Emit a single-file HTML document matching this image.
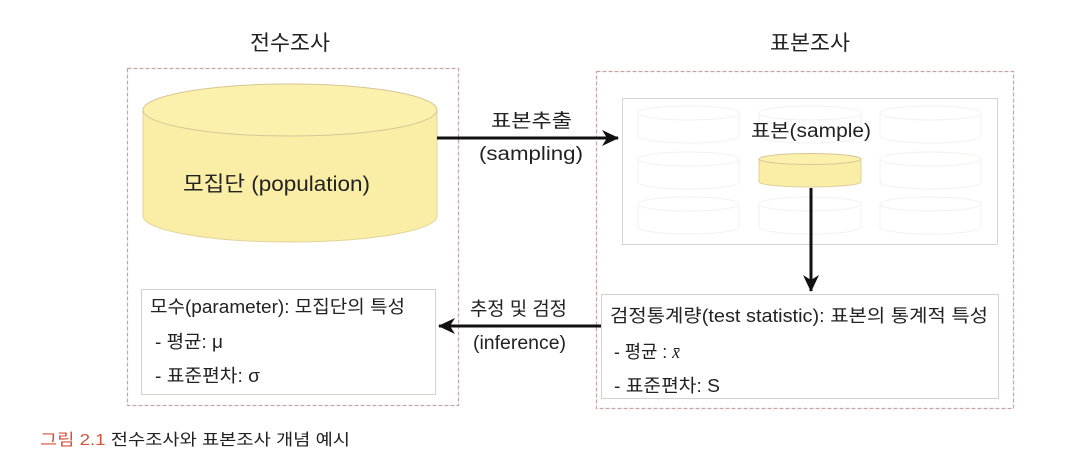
<!DOCTYPE html>
<html><head><meta charset="utf-8"><style>
html,body{margin:0;padding:0;background:#fff;}
svg{display:block;}
text{font-family:"Liberation Sans","Noto Sans CJK KR",sans-serif;fill:#222;}
</style></head><body>
<svg width="1078" height="474" viewBox="0 0 1078 474" xmlns="http://www.w3.org/2000/svg">
<defs>
<marker id="ah2" markerWidth="20" markerHeight="20" refX="16" refY="8" orient="auto" markerUnits="userSpaceOnUse">
<path d="M0,0 L17,8 L0,16 L5,8 Z" fill="#111"/>
</marker>
</defs>
<text x="250" y="50" font-size="21" textLength="80" lengthAdjust="spacingAndGlyphs">전수조사</text>
<text x="770" y="50" font-size="21" textLength="80" lengthAdjust="spacingAndGlyphs">표본조사</text>
<rect x="127.5" y="68.5" width="331" height="337" fill="none" stroke="#c9a4a4" stroke-width="1.2" stroke-dasharray="4,2"/>
<rect x="596.5" y="71.5" width="417" height="337" fill="none" stroke="#c9a4a4" stroke-width="1.2" stroke-dasharray="4,2"/>
<path d="M143,110 L143,216 A147,26 0 0 0 437,216 L437,110" fill="#faeea6" stroke="#e3d39b" stroke-width="1"/>
<ellipse cx="290" cy="110" rx="147" ry="26" fill="#fbf0ac" stroke="#d8c596" stroke-width="1"/>
<text x="183" y="191" font-size="21" textLength="187" lengthAdjust="spacingAndGlyphs">모집단 (population)</text>
<rect x="141.5" y="289.5" width="294" height="105" fill="#fff" stroke="#ccd6cc" stroke-width="1"/>
<text x="150" y="313" font-size="18" textLength="255" lengthAdjust="spacingAndGlyphs">모수(parameter): 모집단의 특성</text>
<text x="155" y="348" font-size="18" textLength="68" lengthAdjust="spacingAndGlyphs">- 평균: μ</text>
<text x="155" y="382" font-size="18" textLength="105" lengthAdjust="spacingAndGlyphs">- 표준편차: σ</text>
<rect x="622.5" y="98.5" width="375" height="146" fill="#fff" stroke="#d4d4d4" stroke-width="1"/>
<g fill="none" stroke="#f1f3ef" stroke-width="1">
<path d="M638,113 v23 a50.5,7 0 0 0 101,0 v-23"/><ellipse cx="688.5" cy="113" rx="50.5" ry="7"/>
<path d="M638,159 v23 a50.5,7 0 0 0 101,0 v-23"/><ellipse cx="688.5" cy="159" rx="50.5" ry="7"/>
<path d="M638,204 v23 a50.5,7 0 0 0 101,0 v-23"/><ellipse cx="688.5" cy="204" rx="50.5" ry="7"/>
<path d="M759,113 v23 a51,7 0 0 0 102,0 v-23"/><ellipse cx="810" cy="113" rx="51" ry="7"/>
<path d="M759,204 v23 a51,7 0 0 0 102,0 v-23"/><ellipse cx="810" cy="204" rx="51" ry="7"/>
<path d="M880,113 v23 a50.5,7 0 0 0 101,0 v-23"/><ellipse cx="930.5" cy="113" rx="50.5" ry="7"/>
<path d="M880,159 v23 a50.5,7 0 0 0 101,0 v-23"/><ellipse cx="930.5" cy="159" rx="50.5" ry="7"/>
<path d="M880,204 v23 a50.5,7 0 0 0 101,0 v-23"/><ellipse cx="930.5" cy="204" rx="50.5" ry="7"/>
</g>
<text x="751" y="137" font-size="19" textLength="120" lengthAdjust="spacingAndGlyphs">표본(sample)</text>
<path d="M759,159 L759,182 A51,5 0 0 0 861,182 L861,159" fill="#faeea6" stroke="#e0cf9c" stroke-width="1"/>
<ellipse cx="810" cy="159" rx="51" ry="5.5" fill="#fbf0ac" stroke="#d8c596" stroke-width="1"/>
<line x1="811" y1="188" x2="811" y2="291" stroke="#111" stroke-width="3" marker-end="url(#ah2)"/>
<rect x="601.5" y="294.5" width="397" height="104" fill="#fff" stroke="#ccd6cc" stroke-width="1"/>
<text x="610" y="322" font-size="18" textLength="378" lengthAdjust="spacingAndGlyphs">검정통계량(test statistic): 표본의 통계적 특성</text>
<text x="614" y="358" font-size="18" textLength="66" lengthAdjust="spacingAndGlyphs">- 평균 : <tspan font-style="italic" font-family="Liberation Serif, serif">x̄</tspan></text>
<text x="614" y="392" font-size="18" textLength="106" lengthAdjust="spacingAndGlyphs">- 표준편차: S</text>
<line x1="437" y1="138" x2="618" y2="138" stroke="#111" stroke-width="3" marker-end="url(#ah2)"/>
<text x="491" y="127" font-size="19" textLength="81" lengthAdjust="spacingAndGlyphs">표본추출</text>
<text x="479" y="160" font-size="19" textLength="104" lengthAdjust="spacingAndGlyphs">(sampling)</text>
<line x1="601" y1="326" x2="439" y2="326" stroke="#111" stroke-width="3" marker-end="url(#ah2)"/>
<text x="470" y="315" font-size="19" textLength="97" lengthAdjust="spacingAndGlyphs">추정 및 검정</text>
<text x="473" y="349" font-size="19" textLength="93" lengthAdjust="spacingAndGlyphs">(inference)</text>
<text x="40" y="445" font-size="16" textLength="310" lengthAdjust="spacingAndGlyphs"><tspan fill="#d4523b">그림 2.1</tspan> 전수조사와 표본조사 개념 예시</text>
</svg>
</body></html>
